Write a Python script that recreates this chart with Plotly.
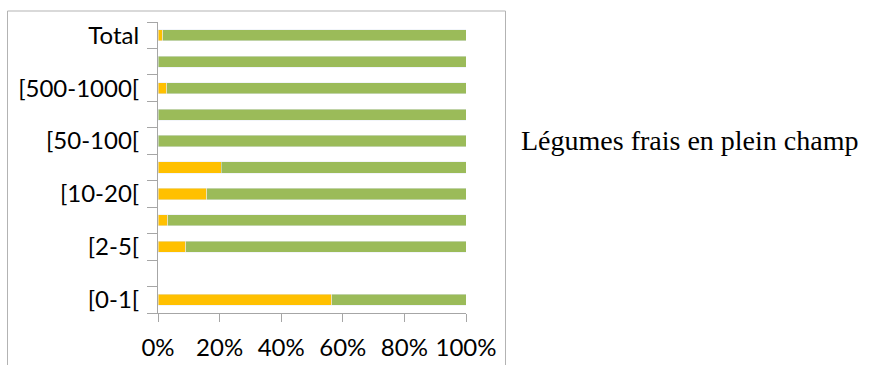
import plotly.graph_objects as go

categories = ["[0-1[", "[1-2[", "[2-5[", "[5-10[", "[10-20[", "[20-50[",
              "[50-100[", "[100-500[", "[500-1000[", "[1000 et +[", "Total"]
shown_labels = ["[0-1[", "[2-5[", "[10-20[", "[50-100[", "[500-1000[", "Total"]
part_a = [0.564, None, 0.09, 0.031, 0.159, 0.205, 0.0, 0.0, 0.029, 0.0, 0.016]
part_b = [0.436, None, 0.91, 0.969, 0.841, 0.795, 1.0, 1.0, 0.971, 1.0, 0.984]
side_title = "Légumes frais en plein champ"

W, H = 875, 365
L, R, T, B = 158, 466, 22, 313

fig = go.Figure()
fig.add_bar(y=categories, x=part_a, orientation="h", marker_color="#FFC000",
            showlegend=False, name="A")
fig.add_bar(y=categories, x=part_b, orientation="h", marker_color="#9BBB59",
            showlegend=False, name="B")

def px(x):
    return (x - L) / (R - L)

def py(y):
    return (B - y) / (B - T)

border = dict(color="#b3b3b3", width=1)
fig.add_shape(type="line", xref="paper", yref="paper", x0=px(7.5), x1=px(7.5),
              y0=py(11), y1=py(380), line=border)
fig.add_shape(type="line", xref="paper", yref="paper", x0=px(7.5), x1=px(505.5),
              y0=py(11), y1=py(11), line=border)
fig.add_shape(type="line", xref="paper", yref="paper", x0=px(505.5), x1=px(505.5),
              y0=py(11), y1=py(380), line=border)

fig.add_annotation(text=side_title, xref="paper", yref="paper", x=px(519), y=py(140),
                   xanchor="left", yanchor="middle", showarrow=False,
                   font=dict(family="Liberation Serif", size=28, color="#000000"))

fig.update_layout(
    width=W, height=H, barmode="stack", bargap=0.58,
    margin=dict(l=L, r=W - R, t=T, b=H - B, autoexpand=False),
    plot_bgcolor="white", paper_bgcolor="white",
    font=dict(family="Lato", size=24, color="#000000"),
)
fig.update_xaxes(range=[0, 1], tickvals=[0, 0.2, 0.4, 0.6, 0.8, 1.0], tickformat=".0%",
                 showgrid=False, zeroline=False, showline=True, linecolor="#a6a6a6",
                 ticks="outside", ticklen=8, tickwidth=1, tickcolor="#a6a6a6",
                 ticklabelstandoff=5, automargin=False)
fig.update_yaxes(type="category", categoryorder="array", categoryarray=categories,
                 tickvals=categories,
                 ticktext=[c if c in shown_labels else "" for c in categories],
                 tickson="boundaries", ticks="outside", ticklen=10, tickwidth=1,
                 tickcolor="#a6a6a6",
                 ticklabelstandoff=13, automargin=False,
                 showgrid=False, zeroline=False, showline=True, linecolor="#a6a6a6",
                 range=[-0.5, len(categories) - 0.5])

fig.write_html("out.html", post_script="document.body.style.margin='0';",
               config={"displayModeBar": False})
